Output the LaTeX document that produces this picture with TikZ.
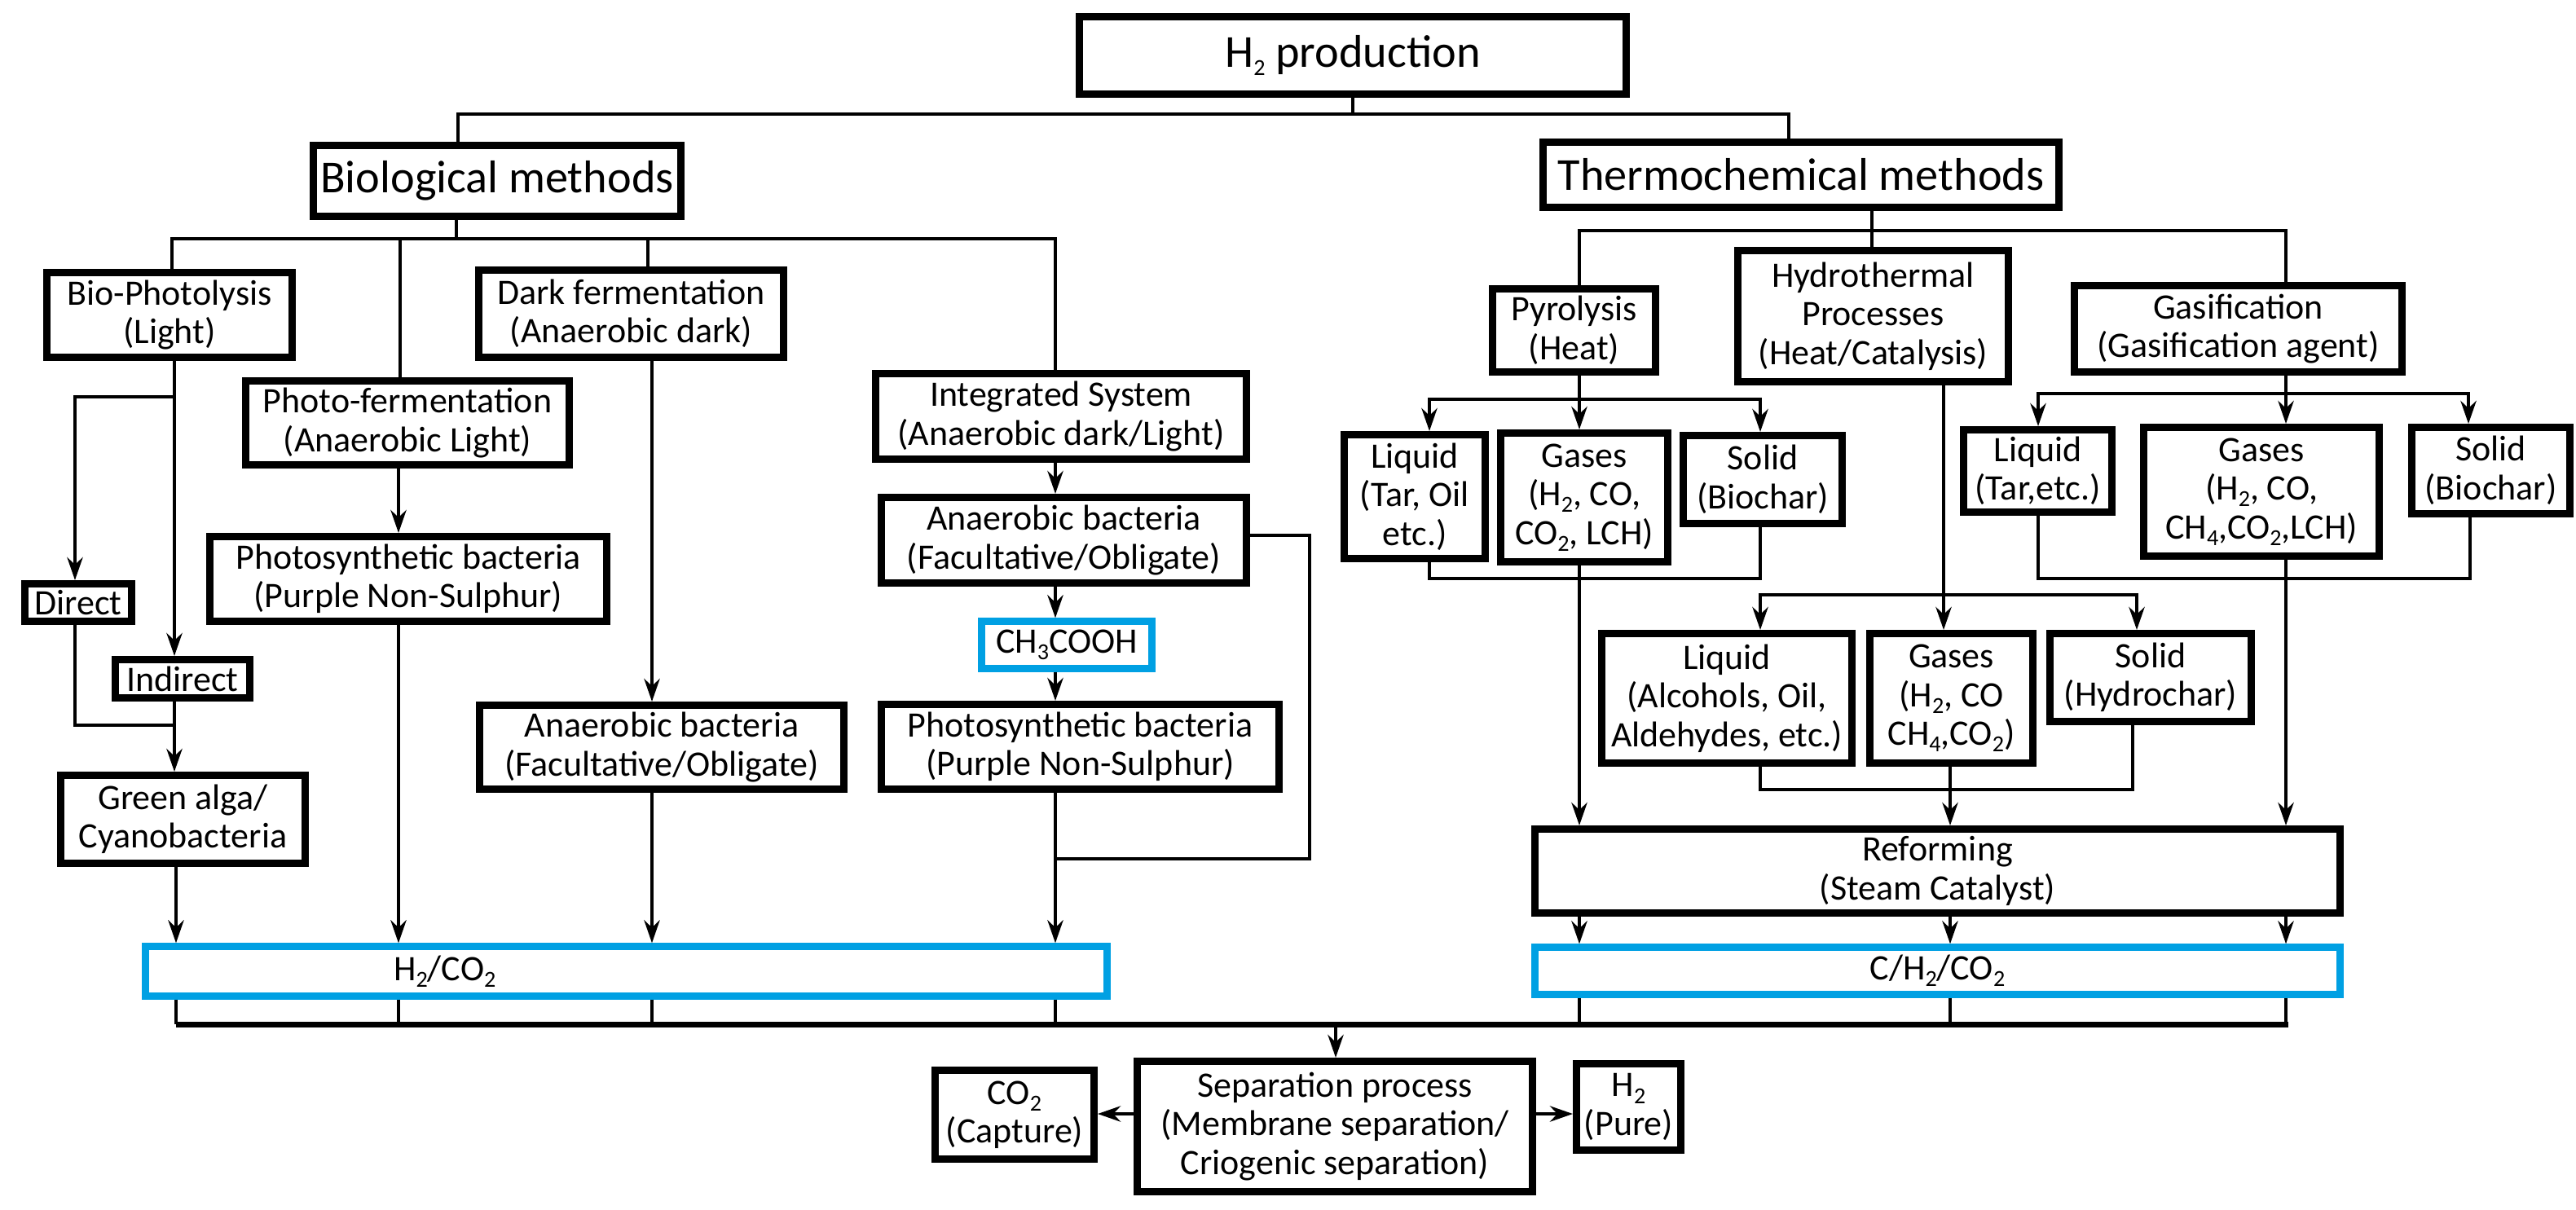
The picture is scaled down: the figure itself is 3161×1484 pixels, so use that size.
\documentclass[tikz,border=0pt]{standalone}
\usepackage{fontspec}
\setmainfont{Carlito}
\usetikzlibrary{arrows.meta}
\definecolor{cyanb}{RGB}{0,160,227}
\newcommand\lo[1]{\raisebox{-0.4ex}{\footnotesize #1}}
\newcommand\bx[7][]{\node[box,#1,minimum width={(#5-#3)*0.01cm-2.6pt},minimum height={(#6-#4)*0.01cm-2.6pt}] (#2) at ({(#3+#5)/2},{(#4+#6)/2}) {#7};}
\begin{document}
\begin{tikzpicture}[x=0.01cm,y=-0.01cm,
 box/.style={draw,line width=2.6pt,align=center,inner sep=0pt,font=\fontsize{12.5}{13.5}\selectfont},
 big/.style={font=\fontsize{16}{18}\selectfont},
 blue/.style={draw=cyanb,line width=2.4pt},
 ln/.style={line width=1.1pt},
 ar/.style={ln,-{Stealth[length=8pt,width=5.5pt]}}]
\useasboundingbox (0,0) rectangle (3161,1484);
% top
\bx[big]{h2}{1320}{16}{2000}{120}{H\lo{2} production}
\bx[big]{bio}{380}{174}{840}{270}{Biological methods}
\bx[big]{thermo}{1889}{170}{2531}{259}{Thermochemical methods}
\coordinate (tl) at (562,140); \coordinate (tr) at (2195,140);
\draw[ln] (h2.south) -- (h2.south |- tl);
\draw[ln] (bio.north -| tl) -- (tl) -- (tr) -- (thermo.north -| tr);
% biological
\bx{bphot}{53}{330}{363}{443}{Bio-Photolysis\\(Light)}
\bx{pferm}{297}{463}{703}{575}{Photo-fermentation\\(Anaerobic Light)}
\bx{dark}{583}{327}{966}{443}{Dark fermentation\\(Anaerobic dark)}
\bx{integ}{1070}{454}{1534}{568}{Integrated System\\(Anaerobic dark/Light)}
\bx{direct}{26}{712}{166}{767}{Direct}
\bx{indirect}{137}{805}{311}{861}{Indirect}
\bx{green}{70}{947}{379}{1064}{Green alga/\\Cyanobacteria}
\bx{psb}{253}{654}{749}{767}{Photosynthetic bacteria\\(Purple Non-Sulphur)}
\bx{anb}{584}{861}{1040}{973}{Anaerobic bacteria\\(Facultative/Obligate)}
\bx{anb2}{1077}{606}{1534}{720}{Anaerobic bacteria\\(Facultative/Obligate)}
\bx[blue]{ch3}{1200}{758}{1418}{825}{CH\lo{3}COOH}
\bx{psb2}{1077}{860}{1574}{973}{Photosynthetic bacteria\\(Purple Non-Sulphur)}
\bx[blue,align=left,text width=11.5cm]{hco}{174}{1157}{1363}{1227}{\hspace*{2.9cm}H\lo{2}/CO\lo{2}}
\draw[ln] (bio.south -| 560,0) -- (560,293);
\draw[ln] (bphot.north -| 211,0) -- (211,293) -- (1295,293) -- (integ.north -| 1295,0);
\draw[ln] (491,293) -- (pferm.north -| 491,0);
\draw[ln] (795,293) -- (dark.north -| 795,0);
\draw[ar] (bphot.south -| 214,0) -- (indirect.north -| 214,0);
\draw[ar] (214,487) -- (92,487) -- (direct.north -| 92,0);
\draw[ln] (direct.south -| 92,0) -- (92,890) -- (214,890);
\draw[ar] (indirect.south -| 214,0) -- (green.north -| 214,0);
\draw[ar] (green.south -| 216,0) -- (hco.north -| 216,0);
\draw[ar] (pferm.south -| 489,0) -- (psb.north -| 489,0);
\draw[ar] (psb.south -| 489,0) -- (hco.north -| 489,0);
\draw[ar] (dark.south -| 800,0) -- (anb.north -| 800,0);
\draw[ar] (anb.south -| 800,0) -- (hco.north -| 800,0);
\draw[ar] (integ.south -| 1295,0) -- (anb2.north -| 1295,0);
\draw[ar] (anb2.south -| 1295,0) -- (ch3.north -| 1295,0);
\draw[ar] (ch3.south -| 1295,0) -- (psb2.north -| 1295,0);
\draw[ar] (psb2.south -| 1295,0) -- (hco.north -| 1295,0);
\draw[ln] (anb2.east |- 0,657) -- (1607,657) -- (1607,1054) -- (1295,1054);
% thermochemical
\bx{pyro}{1827}{350}{2036}{461}{Pyrolysis\\(Heat)}
\bx{hydro}{2128}{303}{2469}{473}{Hydrothermal\\Processes\\(Heat/Catalysis)}
\bx{gasif}{2541}{346}{2952}{461}{Gasification\\(Gasification agent)}
\bx{pliq}{1645}{529}{1827}{690}{Liquid\\(Tar, Oil\\etc.)}
\bx{pgas}{1837}{527}{2051}{694}{Gases\\(H\lo{2}, CO,\\CO\lo{2}, LCH)}
\bx{psol}{2061}{530}{2265}{647}{Solid\\(Biochar)}
\bx{hliq}{1961}{773}{2277}{941}{Liquid\\(Alcohols, Oil,\\Aldehydes, etc.)}
\bx{hgas}{2290}{773}{2499}{941}{Gases\\(H\lo{2}, CO\\CH\lo{4},CO\lo{2})}
\bx{hsol}{2511}{773}{2767}{890}{Solid\\(Hydrochar)}
\bx{gliq}{2405}{523}{2596}{633}{Liquid\\(Tar,etc.)}
\bx{ggas}{2626}{520}{2924}{687}{Gases\\(H\lo{2}, CO,\\CH\lo{4},CO\lo{2},LCH)}
\bx{gsol}{2955}{520}{3158}{635}{Solid\\(Biochar)}
\bx{ref}{1879}{1013}{2876}{1125}{Reforming\\(Steam Catalyst)}
\bx[blue]{cbox}{1879}{1158}{2876}{1225}{C/H\lo{2}/CO\lo{2}}
\draw[ln] (thermo.south -| 2297,0) -- (2297,283);
\draw[ln] (pyro.north -| 1938,0) -- (1938,283) -- (2805,283) -- (gasif.north -| 2805,0);
\draw[ln] (2297,283) -- (hydro.north -| 2297,0);
\draw[ln] (pyro.south -| 1938,0) -- (1938,490);
\draw[ar] (1938,490) -- (1754,490) -- (pliq.north -| 1754,0);
\draw[ar] (1938,490) -- (2160,490) -- (psol.north -| 2160,0);
\draw[ar] (1938,490) -- (pgas.north -| 1938,0);
\draw[ln] (pliq.south -| 1754,0) -- (1754,710) -- (2160,710) -- (psol.south -| 2160,0);
\draw[ar] (pgas.south -| 1938,0) -- (ref.north -| 1938,0);
\draw[ar] (hydro.south -| 2385,0) -- (hgas.north -| 2385,0);
\draw[ar] (2385,730) -- (2160,730) -- (hliq.north -| 2160,0);
\draw[ar] (2385,730) -- (2622,730) -- (hsol.north -| 2622,0);
\draw[ln] (hliq.south -| 2160,0) -- (2160,969) -- (2617,969) -- (hsol.south -| 2617,0);
\draw[ar] (hgas.south -| 2393,0) -- (ref.north -| 2393,0);
\draw[ln] (gasif.south -| 2805,0) -- (2805,483);
\draw[ar] (2805,483) -- (2501,483) -- (gliq.north -| 2501,0);
\draw[ar] (2805,483) -- (3029,483) -- (gsol.north -| 3029,0);
\draw[ar] (2805,483) -- (ggas.north -| 2805,0);
\draw[ln] (gliq.south -| 2501,0) -- (2501,710) -- (3031,710) -- (gsol.south -| 3031,0);
\draw[ar] (ggas.south -| 2805,0) -- (ref.north -| 2805,0);
\draw[ar] (ref.south -| 1938,0) -- (cbox.north -| 1938,0);
\draw[ar] (ref.south -| 2393,0) -- (cbox.north -| 2393,0);
\draw[ar] (ref.south -| 2805,0) -- (cbox.north -| 2805,0);
% bottom
\bx{sep}{1391}{1298}{1885}{1467}{Separation process\\(Membrane separation/\\Criogenic separation)}
\bx{co2}{1143}{1309}{1347}{1427}{CO\lo{2}\\(Capture)}
\bx{ph2}{1930}{1301}{2067}{1416}{H\lo{2}\\(Pure)}
\draw[ln,line width=2pt] (216,1257) -- (2808,1257);
\foreach \x in {216,489,800,1295} \draw[ln] (hco.south -| \x,0) -- (\x,1257);
\foreach \x in {1938,2393,2805} \draw[ln] (cbox.south -| \x,0) -- (\x,1257);
\draw[ar] (1639,1257) -- (sep.north -| 1639,0);
\draw[ar] (sep.west |- 0,1367) -- (co2.east |- 0,1367);
\draw[ar] (sep.east |- 0,1367) -- (ph2.west |- 0,1367);
\end{tikzpicture}
\end{document}
